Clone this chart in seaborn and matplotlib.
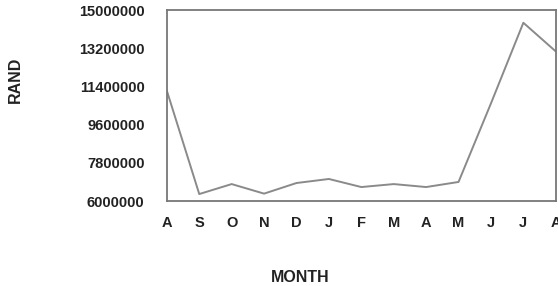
import numpy as np
import pandas as pd
import matplotlib
matplotlib.use("Agg")
import matplotlib.pyplot as plt
import seaborn as sns

# monthly values
months = ["A", "S", "O", "N", "D", "J", "F", "M", "A", "M", "J", "J", "A"]
rand = [11200000, 6330000, 6800000, 6350000, 6850000, 7040000, 6660000,
        6800000, 6660000, 6900000, 10600000, 14400000, 13050000]
yticks = [6000000, 7800000, 9600000, 11400000, 13200000, 15000000]

df = pd.DataFrame({"pos": np.arange(len(months)), "rand": rand})

sns.set_style("white")
plt.rcParams["font.family"] = ["Liberation Sans", "DejaVu Sans"]

fig = plt.figure(figsize=(5.58, 2.86), dpi=100)
ax = fig.add_axes([0.299, 0.297, 0.697, 0.668])

sns.lineplot(data=df, x="pos", y="rand", sort=False, color="#8a8a8a",
             linewidth=1.4, ax=ax)

ax.set_xlim(0, len(months) - 1)
ax.set_ylim(6000000, 15000000)
ax.set_xticks(df.pos)
ax.set_xticklabels(months, fontsize=10.5, fontweight="bold", color="#222222")
ax.set_yticks(yticks)
ax.set_yticklabels([str(v) for v in yticks], fontsize=10.5,
                   fontweight="bold", color="#222222")
ax.tick_params(axis="y", direction="in", length=3, width=1,
               color="#777777", pad=16)
ax.tick_params(axis="x", length=0, pad=11)
ax.set_xlabel("")
ax.set_ylabel("")

for s in ax.spines.values():
    s.set_visible(True)
    s.set_color("#777777")
    s.set_linewidth(1.3)

fig.text(0.027, 0.72, "RAND", rotation=90, ha="center", va="center",
         fontsize=11.5, fontweight="bold", color="#222222")
fig.text(0.538, 0.028, "MONTH", ha="center", va="center",
         fontsize=11.5, fontweight="bold", color="#222222")

fig.savefig("out.png", dpi=100)
